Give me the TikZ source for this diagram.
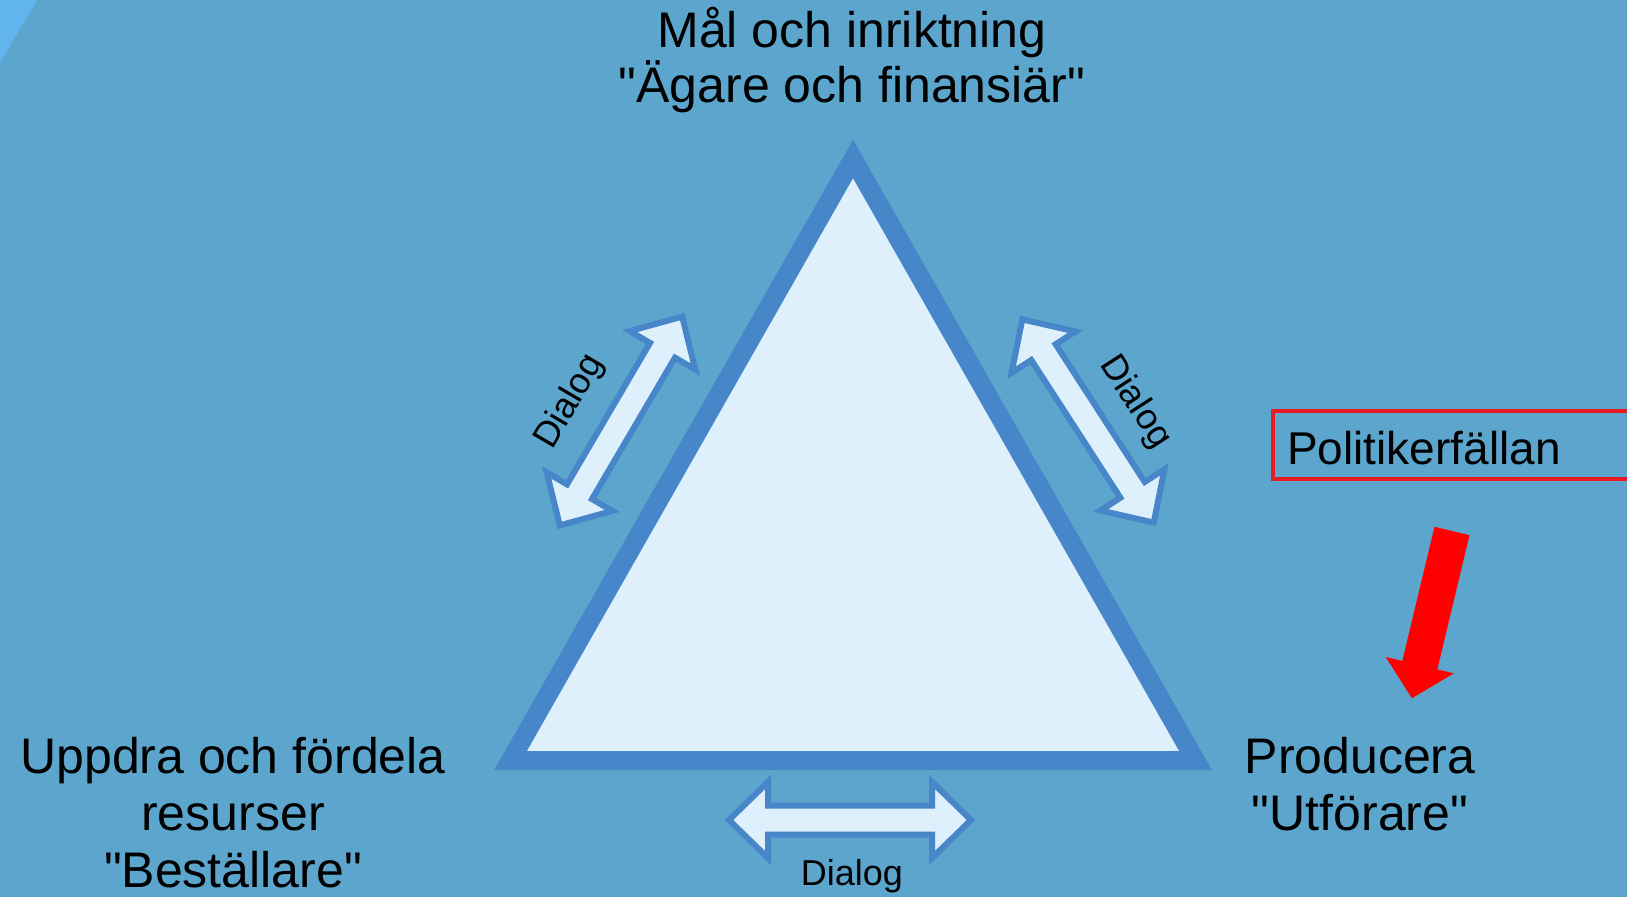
\documentclass[tikz,border=0pt]{standalone}
\usepackage{fontspec}
\setmainfont{Liberation Sans}
\definecolor{bg}{HTML}{5CA5CD}
\definecolor{patch}{HTML}{62B4EE}
\definecolor{triedge}{HTML}{4786C8}
\definecolor{trifill}{HTML}{DEF0FC}
\definecolor{boxred}{HTML}{E81A24}
\newcommand{\qd}{\textquotedbl}
\begin{document}
\begin{tikzpicture}[x=1pt,y=-1pt,
  lbl/.style={font=\fontsize{50}{57}\selectfont, anchor=base, inner sep=0pt, text=black},
  dlg/.style={font=\fontsize{36}{42}\selectfont, inner sep=0pt, text=black},
  dialogarrow/.style={draw=triedge, fill=trifill, line width=6pt, line join=miter}]
\fill[bg] (0,0) rectangle (1627,897);
\useasboundingbox (0,0) rectangle (1627,897);
\fill[patch] (0,0) -- (37,0) -- (0,63) -- cycle;
% triangle
\draw[triedge, fill=trifill, line width=19pt, line join=miter] (853,159) -- (510.5,760.5) -- (1195.5,760.5) -- cycle;
% dialog arrows
\path[dialogarrow, shift={(621,421)}, rotate=59.6]
  (-121,0) -- (-82,-38) -- (-82,-14.5) -- (82,-14.5) -- (82,-38) -- (121,0) -- (82,38) -- (82,14.5) -- (-82,14.5) -- (-82,38) -- cycle;
\path[dialogarrow, shift={(1088,421)}, rotate=-57.1]
  (-121,0) -- (-82,-38) -- (-82,-14.5) -- (82,-14.5) -- (82,-38) -- (121,0) -- (82,38) -- (82,14.5) -- (-82,14.5) -- (-82,38) -- cycle;
\path[dialogarrow, shift={(850,820)}]
  (-121,0) -- (-82,-38) -- (-82,-14.5) -- (82,-14.5) -- (82,-38) -- (121,0) -- (82,38) -- (82,14.5) -- (-82,14.5) -- (-82,38) -- cycle;
% red arrow
\fill[red, shift={(1452,531)}, rotate=-103.5]
  (0,-18) -- (138,-18) -- (138,-35) -- (172,0) -- (138,35) -- (138,18) -- (0,18) -- cycle;
% red box
\draw[boxred, line width=4pt] (1273,411) rectangle (1660,479);
\node[lbl, anchor=base west, font=\fontsize{46}{52}\selectfont] (pol) at (1287,464) {Politikerfällan};
% labels
\node[lbl] (t1) at (852,47) {Mål och inriktning};
\node[lbl] (t2) at (852,102) {\qd Ägare och finansiär\qd};
\node[lbl] (l1) at (233,773) {Uppdra och fördela};
\node[lbl] (l2) at (233,830) {resurser};
\node[lbl] (l3) at (233,887) {\qd Beställare\qd};
\node[lbl] (r1) at (1360,773) {Producera};
\node[lbl] (r2) at (1360,830) {\qd Utförare\qd};
\node[dlg, rotate=59.6] (d1) at (570,402) {Dialog};
\node[dlg, rotate=-57.1] (d2) at (1135,402) {Dialog};
\node[dlg, anchor=base] (d3) at (852,885) {Dialog};
\end{tikzpicture}
\end{document}
